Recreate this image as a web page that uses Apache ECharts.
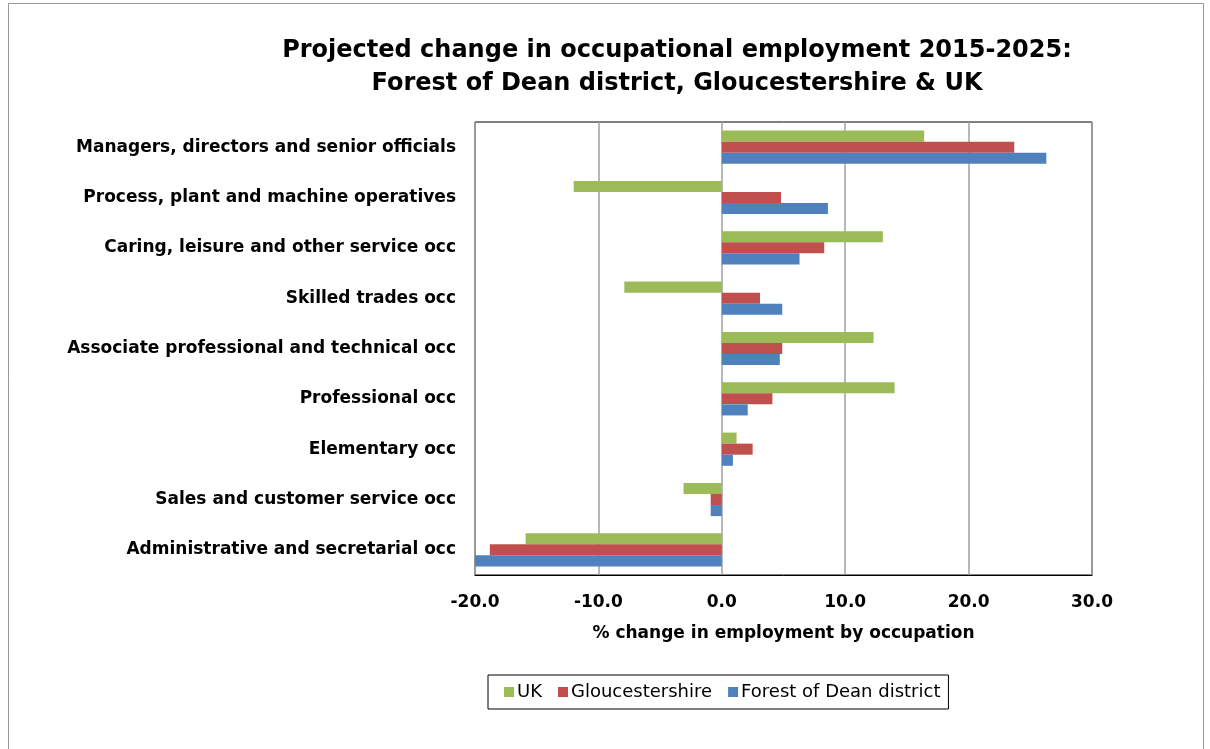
<!DOCTYPE html>
<html><head><meta charset="utf-8">
<script src="https://cdn.jsdelivr.net/npm/echarts@6/dist/echarts.min.js"></script>
<style>html,body{margin:0;padding:0;background:#fff}#c{width:1210px;height:749px}</style>
</head><body><div id="c"></div>
<script>
const categories = [
  "Administrative and secretarial occ",
  "Sales and customer service occ",
  "Elementary occ",
  "Professional occ",
  "Associate professional and technical occ",
  "Skilled trades occ",
  "Caring, leisure and other service occ",
  "Process, plant and machine operatives",
  "Managers, directors and senior officials"
];
const uk = [-15.9, -3.1, 1.2, 14.0, 12.3, -7.9, 13.05, -12.0, 16.4];
const gloucestershire = [-18.8, -0.9, 2.5, 4.1, 4.9, 3.1, 8.3, 4.8, 23.7];
const forestOfDean = [-20.0, -0.9, 0.9, 2.1, 4.7, 4.9, 6.3, 8.6, 26.3];
const seriesNames = ["UK", "Gloucestershire", "Forest of Dean district"];

const chart = echarts.init(document.getElementById('c'), null, {renderer: 'canvas'});
const F = '"DejaVu Sans", sans-serif';
chart.setOption({
  animation: false,
  backgroundColor: '#fff',
  title: {
    text: 'Projected change in occupational employment 2015-2025:\nForest of Dean district, Gloucestershire & UK',
    left: 672, top: 29, textAlign: 'center',
    textStyle: {fontFamily: F, fontSize: 24, fontWeight: 'bold', color: '#000', lineHeight: 33}
  },
  legend: {
    data: seriesNames,
    left: 488, top: 675,
    orient: 'horizontal',
    itemWidth: 10, itemHeight: 10, itemGap: 16,
    icon: 'rect',
    padding: [8, 8, 8, 16],
    borderColor: '#000', borderWidth: 1,
    textStyle: {fontFamily: F, fontSize: 18, color: '#000', padding: [0, 0, 0, -2]}
  },
  grid: {left: 475, right: 118, top: 122, bottom: 174, show: true, borderColor: '#000', borderWidth: 1, containLabel: false},
  xAxis: {
    type: 'value', min: -20, max: 30, interval: 10,
    axisLabel: {formatter: v => v.toFixed(1), fontFamily: F, fontSize: 17, fontWeight: 'bold', color: '#000', margin: 19},
    splitLine: {show: true, lineStyle: {color: '#A0A0A0', width: 1.5}},
    axisLine: {show: true, lineStyle: {color: '#000'}},
    axisTick: {show: false},
    name: '% change in employment by occupation',
    nameLocation: 'middle', nameGap: 50,
    nameTextStyle: {fontFamily: F, fontSize: 17, fontWeight: 'bold', color: '#000'}
  },
  yAxis: {
    type: 'category', data: categories,
    axisLabel: {fontFamily: F, fontSize: 17, fontWeight: 'bold', color: '#000', margin: 19},
    axisLine: {show: false}, axisTick: {show: false}
  },
  series: [
    {name: 'UK', type: 'bar', data: uk, itemStyle: {color: '#9BBB59'}, barGap: '0%', barCategoryGap: '34%'},
    {name: 'Gloucestershire', type: 'bar', data: gloucestershire, itemStyle: {color: '#C0504D'}, barGap: '0%', barCategoryGap: '34%'},
    {name: 'Forest of Dean district', type: 'bar', data: forestOfDean, itemStyle: {color: '#4F81BD'}, barGap: '0%', barCategoryGap: '34%'}
  ],
  graphic: [{type: 'rect', shape: {x: 8.5, y: 3.5, width: 1195, height: 760}, style: {fill: 'none', stroke: '#999', lineWidth: 1}, silent: true}]
});
</script></body></html>
